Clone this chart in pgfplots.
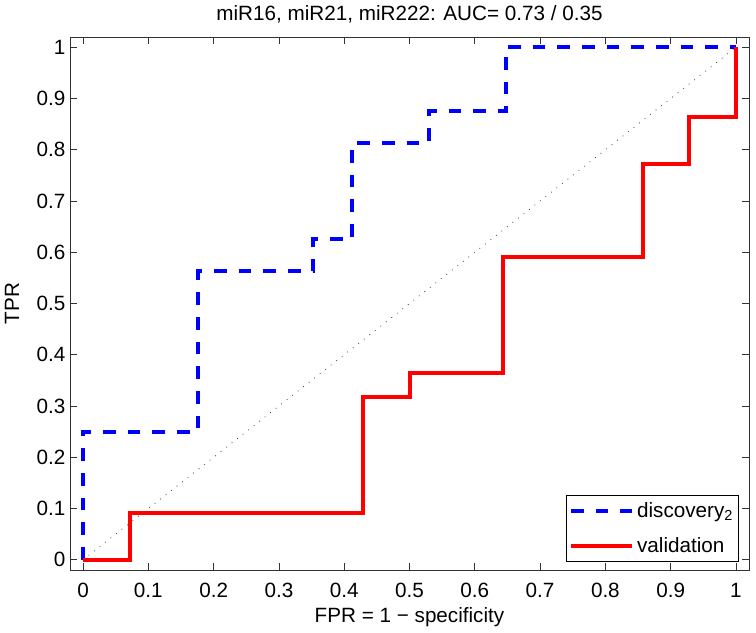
\documentclass[border=0pt]{standalone}
\usepackage{fontspec}
\setmainfont{Liberation Sans}
\usepackage{pgfplots}
\pgfplotsset{compat=1.18}

% ROC steps
\pgfplotstableread{
fpr tpr
0 0
0 0.25
0.1765 0.25
0.1765 0.5625
0.3529 0.5625
0.3529 0.625
0.4118 0.625
0.4118 0.8125
0.5294 0.8125
0.5294 0.875
0.6471 0.875
0.6471 1
1 1
}\discovery
\pgfplotstableread{
fpr tpr
0 0
0.0714 0
0.0714 0.0909
0.4286 0.0909
0.4286 0.3182
0.5 0.3182
0.5 0.3636
0.6429 0.3636
0.6429 0.5909
0.8571 0.5909
0.8571 0.7727
0.9286 0.7727
0.9286 0.8636
1 0.8636
1 1
}\validation

\newcommand{\chartfont}{\fontsize{15.5}{18}\selectfont}

\begin{document}
\begin{tikzpicture}
\begin{axis}[
    scale only axis,
    width=509.25pt, height=399.75pt,
    xmin=-0.02, xmax=1.02,
    ymin=-0.02, ymax=1.02,
    xtick={0,0.1,0.2,0.3,0.4,0.5,0.6,0.7,0.8,0.9,1},
    ytick={0,0.1,0.2,0.3,0.4,0.5,0.6,0.7,0.8,0.9,1},
    /pgf/number format/assume math mode=true,
    tick label style={font=\chartfont},
    xticklabel style={yshift=-6.5pt},
    tick align=inside,
    major tick length=5pt,
    tick style={black!80, line width=0.6pt},
    axis line style={black!80, line width=0.6pt},
    title={miR16, miR21, miR222: AUC= 0.73 / 0.35},
    title style={font=\chartfont, at={(axis description cs:0.5,1.016)}, anchor=base},
    xlabel={FPR = 1 − specificity},
    xlabel style={font=\chartfont, at={(axis description cs:0.5,-0.099)}, anchor=base},
    ylabel={TPR},
    ylabel style={font=\chartfont, at={(axis description cs:-0.0854,0.5)}, anchor=center},
    legend cell align=left,
    legend style={font=\chartfont, at={(0.985,0.015)}, anchor=south east,
        draw=black, line width=0.6pt, inner xsep=2pt, inner ysep=3pt,
        row sep=10pt},
    legend image code/.code={\draw[#1] (0pt,0pt) -- (46pt,0pt);},
]
\addplot[forget plot, black!75, line width=0.6pt, dash pattern=on 0.6pt off 4.65pt]
    coordinates {(0,0) (1,1)};
\addplot[blue, line width=3pt, dash pattern=on 9.5pt off 9pt] table[x=fpr, y=tpr] {\discovery};
\addlegendentry{discovery\textsubscript{2}}
\addplot[red, line width=3pt] table[x=fpr, y=tpr] {\validation};
\addlegendentry{validation}
\end{axis}
\pgfresetboundingbox
\path[use as bounding box] ([xshift=-52.5pt,yshift=-46.5pt]current axis.south west)
    rectangle ([xshift=5.25pt,yshift=27.75pt]current axis.north east);
\end{tikzpicture}
\end{document}
